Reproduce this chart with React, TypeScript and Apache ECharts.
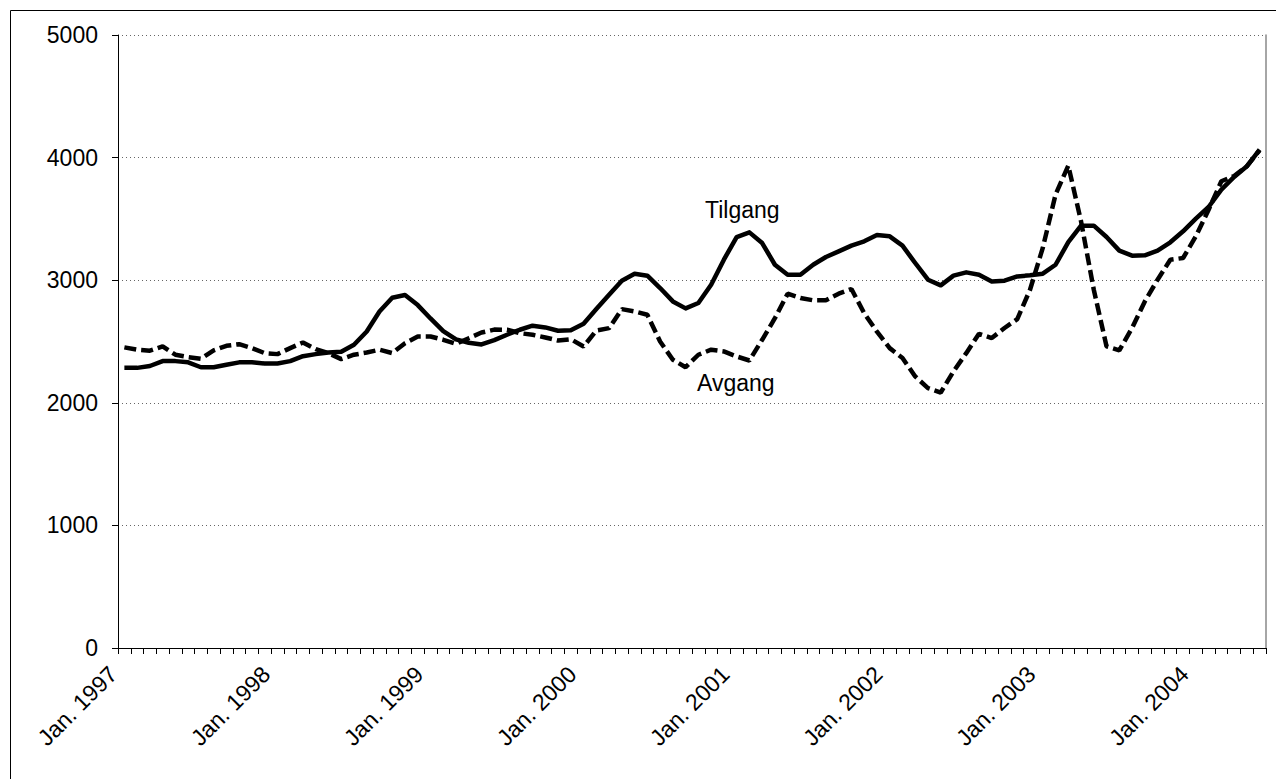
import { useEffect, useRef } from "react";
import * as echarts from "echarts";

const monthNames = ["Jan.", "Feb.", "Mar.", "Apr.", "Mai", "Jun.", "Jul.", "Aug.", "Sep.", "Okt.", "Nov.", "Des."];
const startYear = 1997;
const monthCount = 90;
const categories: string[] = [];
for (let i = 0; i < monthCount; i++) {
  categories.push(`${monthNames[i % 12]} ${startYear + Math.floor(i / 12)}`);
}

const tilgang = [
  2285, 2285, 2300, 2340, 2340, 2330, 2290, 2290, 2310, 2330, 2330, 2320,
  2320, 2340, 2380, 2397, 2410, 2416, 2473, 2582, 2745, 2857, 2879, 2797,
  2688, 2585, 2517, 2490, 2476, 2511, 2555, 2596, 2629, 2615, 2588, 2591,
  2645, 2765, 2882, 2996, 3053, 3037, 2936, 2827, 2770, 2814, 2963, 3167,
  3352, 3390, 3303, 3126, 3045, 3045, 3126, 3189, 3235, 3282, 3317, 3368,
  3358, 3282, 3140, 3004, 2958, 3037, 3064, 3045, 2990, 2996, 3031, 3040,
  3053, 3126, 3310, 3445, 3445, 3352, 3241, 3200, 3203, 3241, 3309, 3399,
  3502, 3597, 3739, 3842, 3929, 4065,
];

const avgang = [
  2452, 2433, 2425, 2460, 2392, 2373, 2359, 2427, 2465, 2478, 2446, 2405,
  2397, 2446, 2492, 2438, 2405, 2356, 2392, 2410, 2433, 2405, 2486, 2541,
  2541, 2514, 2481, 2527, 2573, 2597, 2596, 2568, 2555, 2533, 2508, 2519,
  2459, 2590, 2609, 2764, 2745, 2718, 2500, 2351, 2290, 2392, 2433, 2419,
  2378, 2345, 2514, 2690, 2890, 2855, 2836, 2836, 2890, 2928, 2731, 2580,
  2446, 2365, 2215, 2120, 2084, 2256, 2405, 2563, 2528, 2610, 2683, 2922,
  3263, 3698, 3935, 3480, 2922, 2460, 2427, 2610, 2827, 3004, 3167, 3181,
  3358, 3575, 3807, 3850, 3930, 4060,
];

const yMin = 0;
const yMax = 5000;
const yInterval = 1000;

const FONT = "'Liberation Sans', Arial, sans-serif";

export default function App() {
  const ref = useRef<HTMLDivElement>(null);
  useEffect(() => {
    if (!ref.current) return;
    const chart = echarts.init(ref.current, undefined, { renderer: "svg" });
    const W = 1268;
    const H = 771;
    chart.setOption({
      animation: false,
      backgroundColor: "#ffffff",
      textStyle: { fontFamily: FONT },
      grid: { left: 110, top: 27, right: 10, bottom: 131, containLabel: false },
      xAxis: {
        type: "category",
        data: categories,
        boundaryGap: true,
        axisLine: { show: true, lineStyle: { color: "#000", width: 1 } },
        axisTick: { show: true, interval: 0, length: 6, lineStyle: { color: "#000" } },
        axisLabel: {
          interval: (idx: number) => idx % 12 === 0,
          formatter: (v: string) => v,
          rotate: 45,
          margin: 11,
          padding: [0, 16, 0, 0],
          color: "#000",
          fontSize: 23,
          fontFamily: FONT,
        },
        splitLine: { show: false },
      },
      yAxis: [
        {
          type: "value",
          min: yMin,
          max: yMax,
          interval: yInterval,
          axisLine: { show: true, lineStyle: { color: "#000", width: 1 } },
          axisTick: { show: true, length: 6, lineStyle: { color: "#000" } },
          axisLabel: {
            color: "#000",
            fontSize: 23,
            margin: 20,
            fontFamily: FONT,
            formatter: (v: number) => String(v),
          },
          splitLine: { show: true, lineStyle: { color: "#666", type: [1, 3], width: 1 } },
        },
        {
          type: "value",
          position: "right",
          min: yMin,
          max: yMax,
          interval: yInterval,
          axisLine: { show: true, lineStyle: { color: "#888", width: 1.5 } },
          axisTick: { show: false },
          axisLabel: { show: false },
          splitLine: { show: false },
        },
      ],
      series: [
        {
          name: "Tilgang",
          type: "line",
          data: tilgang,
          symbol: "none",
          lineStyle: { color: "#000", width: 4.5, join: "round" },
          z: 3,
        },
        {
          name: "Avgang",
          type: "line",
          data: avgang,
          symbol: "none",
          lineStyle: { color: "#000", width: 4.5, type: [12, 5], cap: "butt" },
          z: 4,
        },
      ],
      graphic: [
        {
          type: "rect",
          left: 0,
          top: 0,
          shape: { x: 0.5, y: 0.5, width: W - 1, height: H - 1 },
          style: { fill: "none", stroke: "#000", lineWidth: 1 },
          silent: true,
        },
        {
          type: "text",
          left: 697,
          top: 190,
          style: { text: "Tilgang", fill: "#000", fontSize: 23, fontFamily: FONT },
        },
        {
          type: "text",
          left: 689,
          top: 363,
          style: { text: "Avgang", fill: "#000", fontSize: 23, fontFamily: FONT },
        },
      ],
    });
    return () => chart.dispose();
  }, []);
  return (
    <div
      ref={ref}
      style={{ position: "fixed", left: 8, top: 8, width: 1268, height: 771 }}
    />
  );
}
